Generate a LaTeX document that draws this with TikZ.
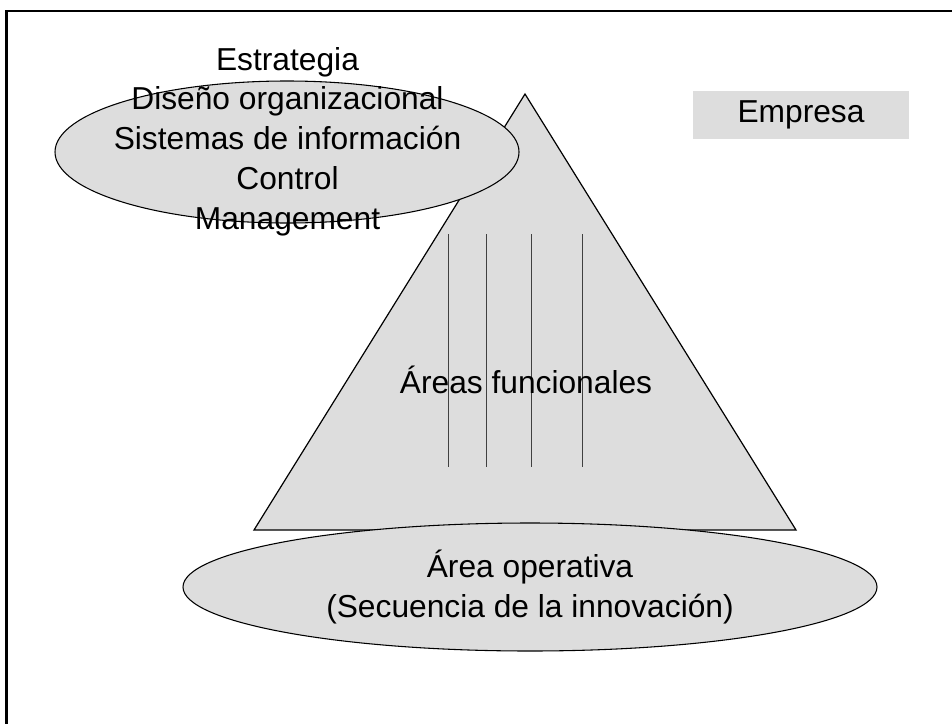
\documentclass[tikz,border=0pt]{standalone}
\usepackage{fontspec}
\setmainfont{Liberation Sans}
\usetikzlibrary{shapes.geometric}
\definecolor{relleno}{RGB}{221,221,221}
\begin{document}
\begin{tikzpicture}[x=0.75pt,y=-0.75pt]
        \tikzset{zona/.style = {shape=ellipse,draw=black,fill=relleno,line width=0.8pt,inner sep=0pt},
                 texto/.style = {align=center,font=\fontsize{23.8}{29.8}\selectfont}};
        \useasboundingbox (0,0) rectangle (952,724);
        \draw[line width=1.9pt] (952,11) -- (6.7,11) -- (6.7,724);
        \coordinate (cima) at (525,94);
        \coordinate (izq) at (254,530);
        \coordinate (der) at (796,530);
        \draw[fill=relleno, line width=0.9pt] (cima) -- (izq) -- (der) -- cycle;
        \foreach \x in {448,486,531,582}
            \draw[line width=0.6pt, black!75] (\x,234) -- (\x,467);
        \node[texto, anchor=base] (funcionales) at (526,393) {Áreas funcionales};
        \node[zona, minimum width=348pt, minimum height=106.5pt] (direccion) at (287,152) {};
        \node[texto] (niveles) at (287.5,141.5) {Estrategia\\Diseño organizacional\\Sistemas de información\\Control\\Management};
        \node[zona, minimum width=520.5pt, minimum height=96pt] (operativa) at (530,587) {};
        \node[texto] (secuencia) at (530,587) {Área operativa\\(Secuencia de la innovación)};
        \node[texto, fill=relleno, minimum width=162pt, minimum height=36pt] (empresa) at (801,115) {Empresa};
\end{tikzpicture}
\end{document}
